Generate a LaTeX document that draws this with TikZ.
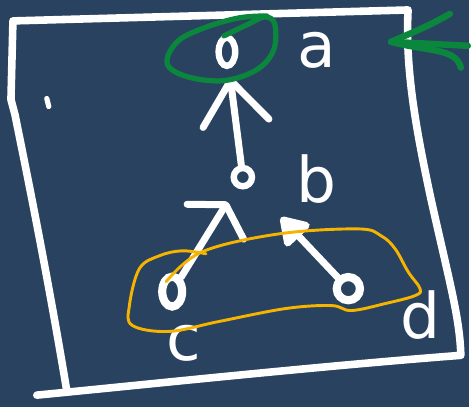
\documentclass[tikz,border=0pt]{standalone}
\usepackage{fontspec}
\setmainfont{DejaVu Sans}
\usetikzlibrary{arrows.meta,shapes.geometric}
\definecolor{board}{RGB}{40,66,96}
\definecolor{penGreen}{RGB}{10,135,60}
\definecolor{penOrange}{RGB}{245,180,0}

\begin{document}
\begin{tikzpicture}[
  x=0.03cm, y=-0.03cm,
  chalk/.style={white, line width=6pt, line cap=round, line join=round},
  vertex/.style={draw=white, line width=5.5pt, inner sep=0pt},
  lbl/.style={text=white, font=\fontsize{54}{54}\selectfont, anchor=base, inner sep=0pt},
  edge/.style={chalk, -{Straight Barb[length=#1, width=2cm, round]}},
  edge/.default=1cm,
  greenpen/.style={penGreen, line width=4.5pt, line cap=round, line join=round},
]

% ── Board and frame ─────────────────────────────────────────────────────────
\fill[board] (0,0) rectangle (471,409);
\draw[chalk, line width=6.5pt]
  (67,392) .. controls (45,260) and (22,150) .. (15,115)  % left edge
  -- (11,100) -- (13,21)
  -- (410,10)                                            % top edge
  .. controls (407,70) and (418,130) .. (433,200)        % right edge
  .. controls (452,285) and (462,320) .. (463,357)
  .. controls (320,368) and (160,385) .. (37,397);       % bottom edge
\draw[chalk, line width=4.5pt] (47,99) -- (49,107);

% ── Vertices ────────────────────────────────────────────────────────────────
\node[vertex, ellipse, minimum width=0.5cm, minimum height=0.85cm] (a) at (228,52) {};
\node[vertex, circle, minimum size=0.55cm] (b) at (244,178) {};
\node[vertex, ellipse, line width=7pt, minimum width=0.6cm, minimum height=0.9cm] (c) at (173,293) {};
\node[vertex, circle, line width=7pt, minimum size=0.7cm] (d) at (350,290) {};

% ── Labels ──────────────────────────────────────────────────────────────────
\node[lbl] (la) at (318,68) {a};
\node[lbl] (lb) at (318,203) {b};
\node[lbl] (lc) at (185,362) {c};
\node[lbl] (ld) at (422,340) {d};

% ── Edges ───────────────────────────────────────────────────────────────────
\draw[edge=1.3cm, shorten >=0.25cm] (b) -- (a);
\draw[edge=0.6cm, shorten >=0.5cm] (c) -- (b);
\draw[chalk, -{Triangle[length=0.9cm, width=1.1cm, round]}, shorten >=1.3cm] (d) -- (b);

% ── Green marks: circled root and pointer ───────────────────────────────────
\draw[greenpen] plot[smooth, tension=0.6] coordinates {
  (225,36) (250,24) (266,17) (276,24) (275,50) (258,70) (225,81)
  (188,77) (168,64) (178,42) (205,28) (240,18) (268,16)};
\coordinate (gtip) at (393,42);
\coordinate (gtail) at (470,46);
\draw[greenpen, line width=5.5pt] (gtail) -- (gtip);
\draw[greenpen, line width=5.5pt] (452,14) .. controls (430,26) .. (gtip);
\draw[greenpen, line width=5.5pt] (gtip) .. controls (430,52) and (458,48) .. (463,68);

% ── Orange loop round the leaves ────────────────────────────────────────────
\draw[penOrange, line width=2.5pt, line cap=round] plot[smooth, tension=0.6] coordinates {
  (167,283) (203,253) (280,235) (360,230) (383,237) (397,250) (410,273)
  (422,290) (417,297) (387,305) (353,312) (333,307) (287,310) (220,323)
  (170,333) (133,327) (130,307) (140,270) (160,257) (183,252) (207,255)};

\end{tikzpicture}
\end{document}
